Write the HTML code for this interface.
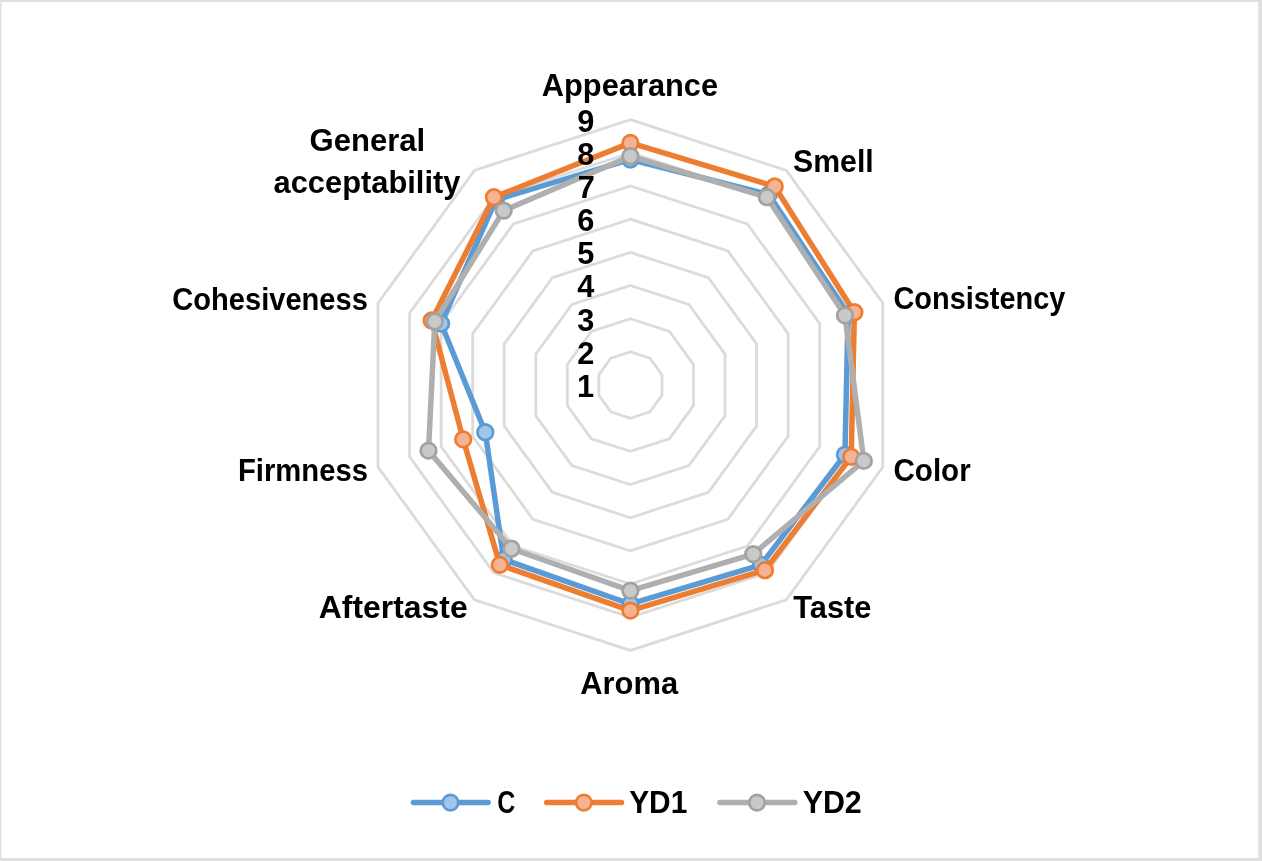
<!DOCTYPE html>
<html lang="en"><head><meta charset="utf-8"><title>Sensory radar chart</title>
<style>
html,body{margin:0;padding:0;background:#fff;}
body{width:1262px;height:861px;overflow:hidden;position:relative;}
#frame{position:absolute;left:0;top:0;width:1262px;height:861px;box-sizing:border-box;background:#fff;}
svg{position:absolute;left:0;top:0;display:block;}
text{font-family:"Liberation Sans",Arial,Helvetica,sans-serif;font-weight:bold;font-size:32px;fill:#000;}
</style></head><body>
<div id="frame"></div>
<svg width="1262" height="861" viewBox="0 0 1262 861">

<path fill="#E0E0E0" fill-rule="evenodd" d="M0 0H1262V861H0Z M1.5 2.1H1258.3V858H1.5Z"/>
<g fill="none" stroke="#DBDBDB" stroke-width="2.8" stroke-linejoin="miter">
<polygon points="630.40,351.88 649.90,358.21 661.95,374.80 661.95,395.30 649.90,411.89 630.40,418.22 610.90,411.89 598.85,395.30 598.85,374.80 610.90,358.21"/>
<polygon points="630.40,318.71 669.39,331.38 693.49,364.55 693.49,405.55 669.39,438.72 630.40,451.39 591.41,438.72 567.31,405.55 567.31,364.55 591.41,331.38"/>
<polygon points="630.40,285.54 688.89,304.54 725.04,354.30 725.04,415.80 688.89,465.56 630.40,484.56 571.91,465.56 535.76,415.80 535.76,354.30 571.91,304.54"/>
<polygon points="630.40,252.37 708.39,277.71 756.59,344.05 756.59,426.05 708.39,492.39 630.40,517.73 552.41,492.39 504.21,426.05 504.21,344.05 552.41,277.71"/>
<polygon points="630.40,219.20 727.88,250.87 788.13,333.80 788.13,436.30 727.88,519.23 630.40,550.90 532.92,519.23 472.67,436.30 472.67,333.80 532.92,250.87"/>
<polygon points="630.40,186.03 747.38,224.04 819.68,323.55 819.68,446.55 747.38,546.06 630.40,584.07 513.42,546.06 441.12,446.55 441.12,323.55 513.42,224.04"/>
<polygon points="630.40,152.86 766.88,197.20 851.23,313.30 851.23,456.80 766.88,572.90 630.40,617.24 493.92,572.90 409.57,456.80 409.57,313.30 493.92,197.20"/>
<polygon points="630.40,119.69 786.37,170.37 882.77,303.05 882.77,467.05 786.37,599.73 630.40,650.41 474.43,599.73 378.03,467.05 378.03,303.05 474.43,170.37"/>
</g>
<g>
<polygon fill="none" stroke="#5B9BD5" stroke-width="5.5" stroke-linejoin="round" points="630.40,159.49 768.83,194.52 848.07,314.32 844.92,454.75 761.03,564.85 630.40,603.97 503.67,559.48 485.29,432.20 441.12,323.55 495.87,199.89"/>
<g fill="#A3C5E8" stroke="#5B9BD5" stroke-width="2.7">
<circle cx="630.40" cy="159.49" r="7.8"/>
<circle cx="768.83" cy="194.52" r="7.8"/>
<circle cx="848.07" cy="314.32" r="7.8"/>
<circle cx="844.92" cy="454.75" r="7.8"/>
<circle cx="761.03" cy="564.85" r="7.8"/>
<circle cx="630.40" cy="603.97" r="7.8"/>
<circle cx="503.67" cy="559.48" r="7.8"/>
<circle cx="485.29" cy="432.20" r="7.8"/>
<circle cx="441.12" cy="323.55" r="7.8"/>
<circle cx="495.87" cy="199.89" r="7.8"/>
</g></g>
<g>
<polygon fill="none" stroke="#ED7D31" stroke-width="5.5" stroke-linejoin="round" points="630.40,142.91 774.68,186.47 854.38,312.27 851.23,456.80 764.93,570.21 630.40,610.61 499.77,564.85 463.20,439.38 431.66,320.47 493.92,197.20"/>
<g fill="#F5B394" stroke="#ED7D31" stroke-width="2.7">
<circle cx="630.40" cy="142.91" r="7.8"/>
<circle cx="774.68" cy="186.47" r="7.8"/>
<circle cx="854.38" cy="312.27" r="7.8"/>
<circle cx="851.23" cy="456.80" r="7.8"/>
<circle cx="764.93" cy="570.21" r="7.8"/>
<circle cx="630.40" cy="610.61" r="7.8"/>
<circle cx="499.77" cy="564.85" r="7.8"/>
<circle cx="463.20" cy="439.38" r="7.8"/>
<circle cx="431.66" cy="320.47" r="7.8"/>
<circle cx="493.92" cy="197.20" r="7.8"/>
</g></g>
<g>
<polygon fill="none" stroke="#AFAFAF" stroke-width="5.5" stroke-linejoin="round" points="630.40,156.18 766.88,197.20 844.92,315.35 863.84,460.90 753.23,554.11 630.40,590.70 511.47,548.74 428.50,450.65 434.81,321.50 503.67,210.62"/>
<g fill="#C9C9C9" stroke="#A2A2A2" stroke-width="2.7">
<circle cx="630.40" cy="156.18" r="7.8"/>
<circle cx="766.88" cy="197.20" r="7.8"/>
<circle cx="844.92" cy="315.35" r="7.8"/>
<circle cx="863.84" cy="460.90" r="7.8"/>
<circle cx="753.23" cy="554.11" r="7.8"/>
<circle cx="630.40" cy="590.70" r="7.8"/>
<circle cx="511.47" cy="548.74" r="7.8"/>
<circle cx="428.50" cy="450.65" r="7.8"/>
<circle cx="434.81" cy="321.50" r="7.8"/>
<circle cx="503.67" cy="210.62" r="7.8"/>
</g></g>
<line x1="413.5" y1="802.6" x2="488.1" y2="802.6" stroke="#5B9BD5" stroke-width="5.5" stroke-linecap="round"/>
<circle cx="450.5" cy="802.6" r="7.8" fill="#A3C5E8" stroke="#5B9BD5" stroke-width="2.7"/>
<line x1="546.7" y1="802.6" x2="621.5" y2="802.6" stroke="#ED7D31" stroke-width="5.5" stroke-linecap="round"/>
<circle cx="583.8" cy="802.6" r="7.8" fill="#F5B394" stroke="#ED7D31" stroke-width="2.7"/>
<line x1="719.9" y1="802.6" x2="794.8" y2="802.6" stroke="#AFAFAF" stroke-width="5.5" stroke-linecap="round"/>
<circle cx="757.0" cy="802.6" r="7.8" fill="#C9C9C9" stroke="#A2A2A2" stroke-width="2.7"/>
<text id="t0" transform="translate(541.84 95.70) scale(0.9624 1)" x="0" y="0">Appearance</text>
<text id="t1" transform="translate(792.95 172.00) scale(0.9463 1)" x="0" y="0">Smell</text>
<text id="t2" transform="translate(893.50 309.40) scale(0.9037 1)" x="0" y="0">Consistency</text>
<text id="t3" transform="translate(893.48 480.50) scale(0.9244 1)" x="0" y="0">Color</text>
<text id="t4" transform="translate(793.20 618.10) scale(0.9637 1)" x="0" y="0">Taste</text>
<text id="t5" transform="translate(580.23 694.00) scale(0.9660 1)" x="0" y="0">Aroma</text>
<text id="t6" transform="translate(318.80 618.00) scale(0.9973 1)" x="0" y="0">Aftertaste</text>
<text id="t7" transform="translate(237.97 480.90) scale(0.9144 1)" x="0" y="0">Firmness</text>
<text id="t8" transform="translate(172.19 309.50) scale(0.9099 1)" x="0" y="0">Cohesiveness</text>
<text id="t9" transform="translate(309.53 150.50) scale(0.9716 1)" x="0" y="0">General</text>
<text id="t10" transform="translate(273.54 193.10) scale(0.9646 1)" x="0" y="0">acceptability</text>
<text id="t11" transform="translate(497.32 812.90) scale(0.7810 1)" x="0" y="0">C</text>
<text id="t12" transform="translate(629.17 812.90) scale(0.9350 1)" x="0" y="0">YD1</text>
<text id="t13" transform="translate(802.65 812.90) scale(0.9500 1)" x="0" y="0">YD2</text>
<text id="t14" transform="translate(576.88 396.90) scale(0.9600 1)" x="0" y="0">1</text>
<text id="t15" transform="translate(577.36 363.73) scale(0.9600 1)" x="0" y="0">2</text>
<text id="t16" transform="translate(577.36 330.56) scale(0.9600 1)" x="0" y="0">3</text>
<text id="t17" transform="translate(577.36 297.39) scale(0.9600 1)" x="0" y="0">4</text>
<text id="t18" transform="translate(577.36 264.22) scale(0.9600 1)" x="0" y="0">5</text>
<text id="t19" transform="translate(577.36 231.05) scale(0.9600 1)" x="0" y="0">6</text>
<text id="t20" transform="translate(577.84 197.88) scale(0.9600 1)" x="0" y="0">7</text>
<text id="t21" transform="translate(577.36 164.71) scale(0.9600 1)" x="0" y="0">8</text>
<text id="t22" transform="translate(577.36 131.54) scale(0.9600 1)" x="0" y="0">9</text>
</svg>
</body></html>
